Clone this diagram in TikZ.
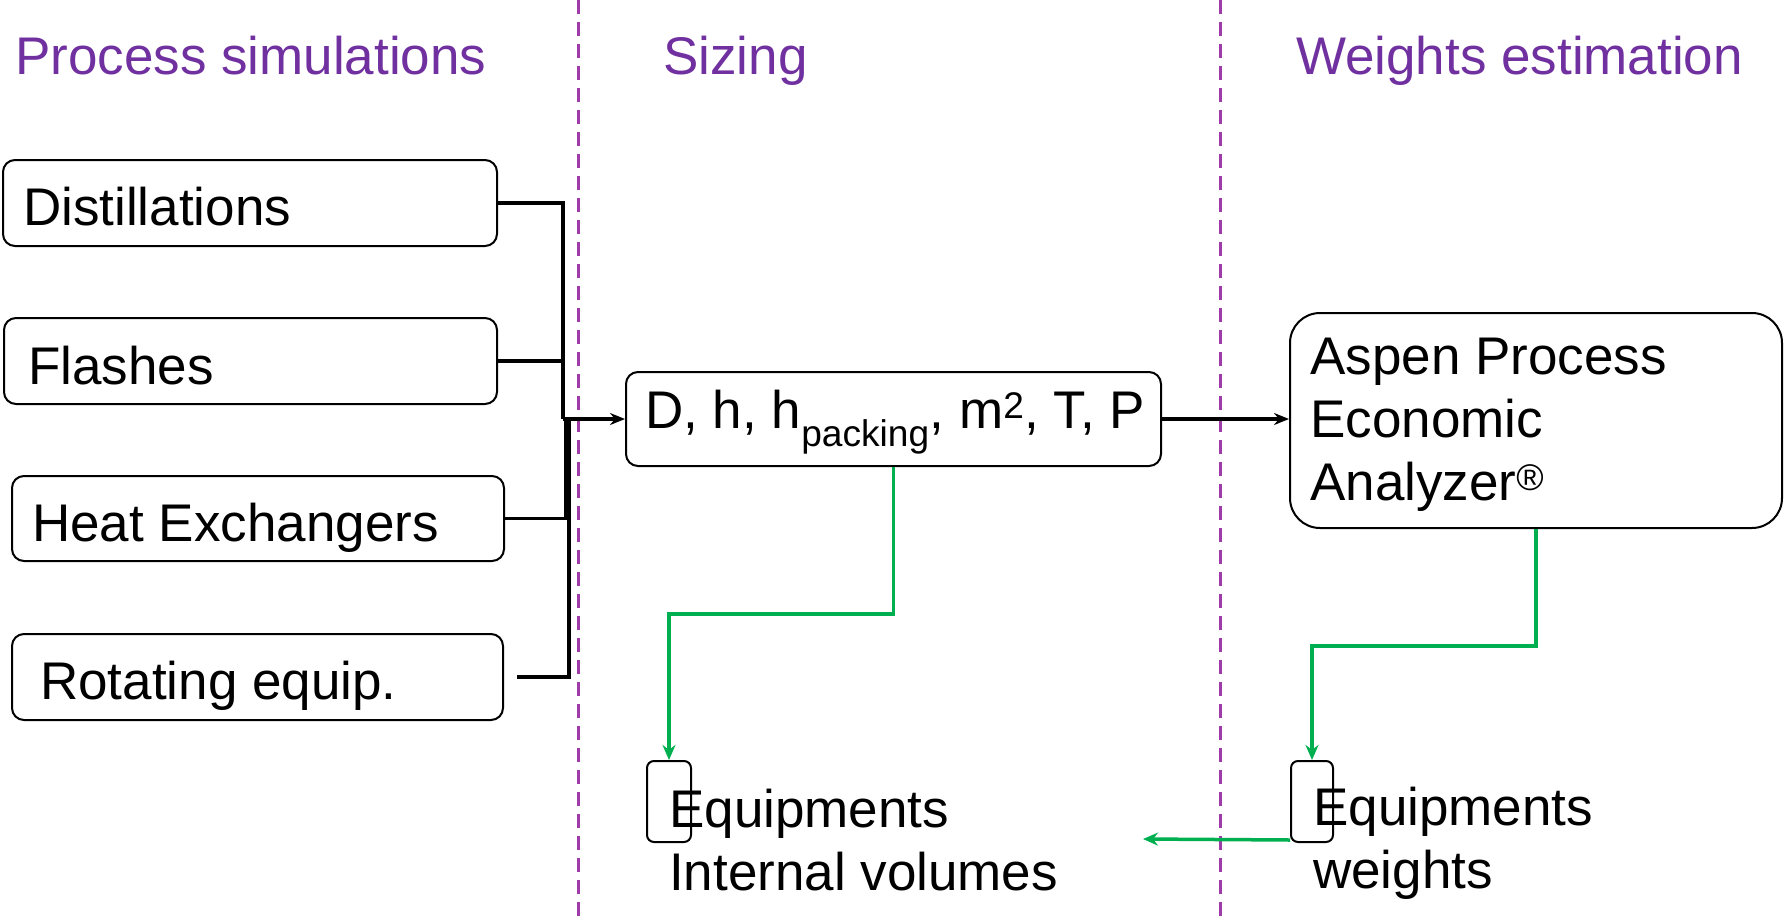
\documentclass[tikz,border=0pt]{standalone}
\usepackage{fontspec}
\setmainfont{Liberation Sans}
\usetikzlibrary{arrows.meta}
\definecolor{titlepurple}{HTML}{7030A0}
\definecolor{dashpurple}{RGB}{160,60,170}
\definecolor{flowgreen}{HTML}{00B050}
\begin{document}
\begin{tikzpicture}[x=1pt,y=-1pt,
  bigfont/.style={font=\fontsize{53}{63}\selectfont},
  sectitle/.style={bigfont, text=titlepurple, anchor=base west, inner sep=0pt},
  lbl/.style={bigfont, anchor=base west, inner sep=0pt, align=left},
  pbox/.style={draw, line width=2pt, rounded corners=12pt, inner sep=0pt},
  conn/.style={line width=3.2pt},
  arr/.style={conn, -{Stealth[length=15pt,width=12pt]}},
  gconn/.style={line width=3.5pt, draw=flowgreen, -{Stealth[length=15pt,width=13pt]}},
  divider/.style={draw=dashpurple, line width=3pt, dash pattern=on 14pt off 8pt}]
\useasboundingbox (0,0) rectangle (1785,921);

% dividers
\coordinate (d1t) at (578,0); \coordinate (d1b) at (578,921);
\coordinate (d2t) at (1220,0); \coordinate (d2b) at (1220,921);
\draw[divider] (d1t) -- (d1b);
\draw[divider] (d2t) -- (d2b);

% section titles
\node[sectitle] (t1) at (15,74) {Process simulations};
\node[sectitle] (t2) at (663,74) {Sizing};
\node[sectitle] (t3) at (1296,74) {Weights estimation};

% left boxes
\node[pbox, minimum width=494pt, minimum height=86pt] (dist) at (250,203) {};
\node[pbox, minimum width=493pt, minimum height=86pt] (flash) at (250.5,361) {};
\node[pbox, minimum width=492pt, minimum height=85pt] (heat) at (258,518.5) {};
\node[pbox, minimum width=491pt, minimum height=86pt] (rot) at (257.5,677) {};
\node[lbl] (distT) at (23,225) {Distillations};
\node[lbl] (flashT) at (28,384) {Flashes};
\node[lbl] (heatT) at (32,541) {Heat Exchangers};
\node[lbl] (rotT) at (40,699) {Rotating equip.};

% sizing box
\node[pbox, minimum width=535pt, minimum height=94pt] (sizing) at (893.5,419) {};
\node[lbl] (sizingT) at (645,428) {D, h, h\textsubscript{packing}, m\textsuperscript{2}, T, P};

% aspen box
\node[pbox, rounded corners=30pt, minimum width=492pt, minimum height=215pt] (aspen) at (1536,420.5) {};
\node[lbl] (aspenT) at (1310,500) {Aspen Process\\Economic\\Analyzer\textsuperscript{®}};

% small boxes
\node[pbox, rounded corners=7pt, minimum width=44pt, minimum height=81pt] (vbox) at (669,801.5) {};
\node[pbox, rounded corners=7pt, minimum width=42pt, minimum height=81pt] (wbox) at (1312,801.5) {};
\node[lbl] (volT) at (669,890) {Equipments\\Internal volumes};
\node[lbl] (wT) at (1313,888) {Equipments\\weights};

% bus
\coordinate (j) at (563,419);
\coordinate (jh) at (566,419);
\coordinate (jr) at (569,419);
\draw[conn] (dist.east) -| (j);
\draw[conn] (flash.east) -- (flash.east -| j);
\draw[conn] (heat.east) -| (jh);
\draw[conn] ([xshift=13pt]rot.east) -| (jr);
\draw[arr] (j) -- (sizing.west);

% sizing -> aspen
\draw[arr] (sizing.east) -- (sizing.east -| aspen.west);

% green flows
\draw[gconn] (sizing.south) -- ++(0,147) -| (vbox.north);
\draw[gconn] (aspen.south) -- ++(0,117) -| (wbox.north);
\coordinate (gend) at (1143,839);
\draw[gconn] ([yshift=3pt]wbox.south west) -- (gend);
\end{tikzpicture}
\end{document}
